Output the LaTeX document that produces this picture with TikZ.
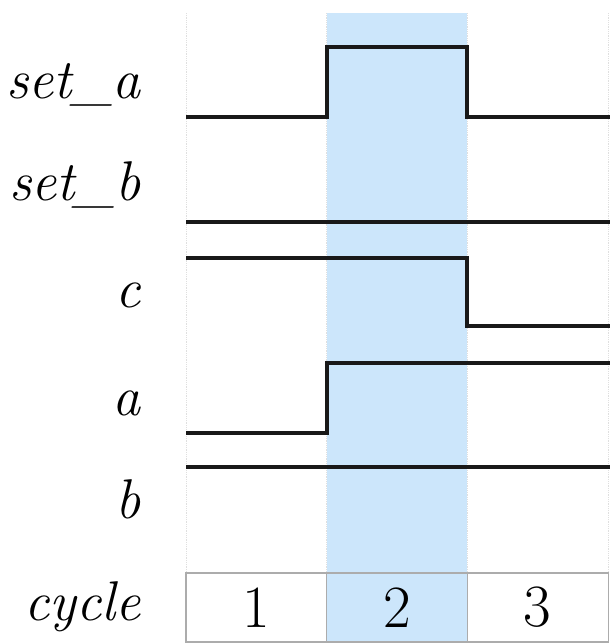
\documentclass[tikz,border=0pt]{standalone}
\definecolor{cyclebg}{RGB}{204,230,251}
\begin{document}
\begin{tikzpicture}[
  x=1pt, y=-1pt,
  sig/.style={line width=3.8pt, black!90, line join=miter},
  lbl/.style={font=\fontsize{56}{60}\selectfont\itshape, anchor=base east, inner sep=0},
  cell/.style={draw=gray!65, line width=1.2pt, minimum width=140.7pt, minimum height=69pt, inner sep=0, font=\fontsize{60}{62}\selectfont},
  guide/.style={gray!25, densely dotted, line width=0.8pt}
]
\useasboundingbox (0,0) rectangle (610,643);
% highlighted cycle
\fill[cyclebg] (326.7,13) rectangle (467.3,643);
\foreach \x in {186,326.7,467.3,608}{
  \draw[guide] (\x,13) -- (\x,573);
}
% signal names
\node[lbl] (lseta) at (141,98) {set\_a};
\node[lbl] (lsetb) at (141,200) {set\_b};
\node[lbl] (lc) at (141,307) {c};
\node[lbl] (la) at (141,415) {a};
\node[lbl] (lb) at (141,518) {b};
\node[lbl] (lcycle) at (141,620) {cycle};
% waveforms
\draw[sig] (186,117) -- (327,117) -- (327,47) -- (467,47) -- (467,117) -- (610,117);
\draw[sig] (186,222) -- (610,222);
\draw[sig] (186,258) -- (467,258) -- (467,326) -- (610,326);
\draw[sig] (186,433) -- (327,433) -- (327,363) -- (610,363);
\draw[sig] (186,467) -- (610,467);
% cycle numbers
\foreach \i in {1,2,3}{
  \node[cell] (cyc\i) at ({186+140.7*(\i-0.5)},607.5) {\i};
}
\end{tikzpicture}
\end{document}
